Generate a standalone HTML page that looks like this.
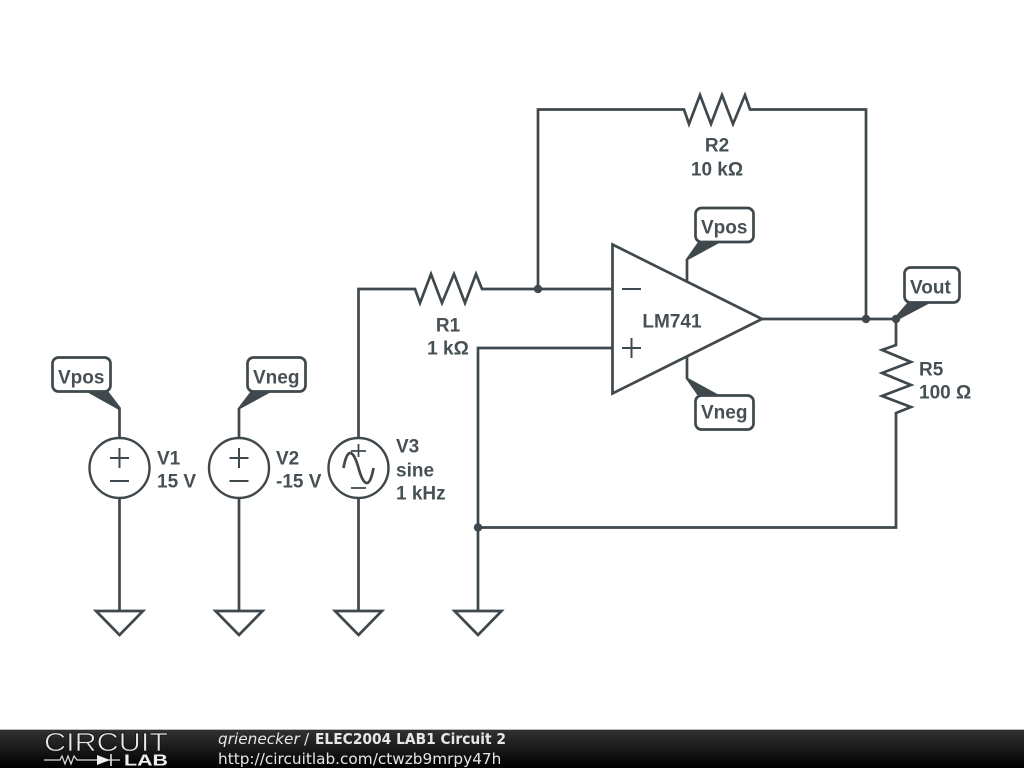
<!DOCTYPE html>
<html><head><meta charset="utf-8"><style>
html,body{margin:0;padding:0;background:#fff}
svg{display:block}
.w{fill:none;stroke:#3f484c;stroke-width:2.7;stroke-linejoin:miter}
.l{font-family:"Liberation Sans",sans-serif;font-weight:bold;font-size:19px;fill:#475054}
.f{font-family:"DejaVu Sans",sans-serif;font-size:15.3px;fill:#e6e6e6}
</style></head><body>
<svg width="1024" height="768" viewBox="0 0 1024 768" xmlns="http://www.w3.org/2000/svg">
<defs><linearGradient id="g" x1="0" y1="0" x2="0" y2="1"><stop offset="0" stop-color="#333"/><stop offset="1" stop-color="#000"/></linearGradient></defs>
<rect width="1024" height="768" fill="#fff"/>
<!-- wires -->
<path class="w" d="M358.500 438V289H415L420 303L431 274L442 303L454 274L465 303L476 274L482 289H612"/>
<path class="w" d="M538 289V109.500H684L689 124L700 95L711 124L722 95L733 124L745 95L750 109.500H866V319"/>
<path class="w" d="M762 319H896V345L882 350L911 362L882 373L911 385L882 396L911 407L896 413V527.500H478"/>
<path class="w" d="M612 348H478V611"/>
<!-- op amp -->
<path class="w" d="M612.500 244.500L762 319L612.500 393.500Z"/>
<path class="w" style="stroke-width:2" d="M622 289H641M622 348H641M631.500 338V358"/>
<path class="w" d="M687 281V259M687 357V379"/>
<!-- V sources -->
<circle class="w" style="stroke-width:2.4" cx="119.500" cy="468" r="30"/>
<circle class="w" style="stroke-width:2.4" cx="239" cy="468" r="30"/>
<circle class="w" style="stroke-width:2.4" cx="358.500" cy="468" r="30"/>
<path class="w" d="M119.500 408V438M119.500 498V611M239 408V438M239 498V611M358.500 498V611"/>
<path class="w" style="stroke-width:2" d="M110 458H129M119.500 448V468M110 481H129M229.500 458H248.500M239 448V468M229.500 481H248.500"/>
<path class="w" style="stroke-width:1.800" d="M351 451H366M358.500 444V457M351 488H366"/>
<path class="w" d="M343.500 468C347 448 353 448 358.500 468C364 488 370 488 373.500 468"/>
<!-- grounds -->
<path class="w" d="M96 611H143L119.500 635ZM215.500 611H262.500L239 635ZM335 611H382L358.500 635ZM454.500 611H501.500L478 635Z"/>
<!-- tags -->
<path fill="#3f484c" d="M85 391L108 391L121 408L119 410ZM251 391L273 391L240 409L238 408Z"/>
<path fill="#3f484c" d="M698 242L721 242L688 260L686 259ZM698 396L721 396L688 378L686 379Z"/>
<path fill="#3f484c" d="M908 302L932 302L898 320L894 318Z"/>
<g class="w" style="fill:#fff">
<rect x="52.500" y="357.500" width="58" height="34" rx="6"/>
<rect x="247.500" y="357.500" width="58" height="34" rx="6"/>
<rect x="695.500" y="208" width="58" height="34" rx="6"/>
<rect x="695.500" y="395.500" width="58" height="34" rx="6"/>
<rect x="904.500" y="267.500" width="55" height="35" rx="6"/>
</g>
<!-- dots -->
<g fill="#3f484c"><circle cx="538" cy="289" r="4.200"/><circle cx="866" cy="319" r="4.200"/><circle cx="896" cy="319" r="4.200"/><circle cx="478" cy="527.500" r="4.200"/></g>
<!-- labels -->
<g class="l">
<text x="58" y="383.500">Vpos</text>
<text x="253" y="383.500">Vneg</text>
<text x="701" y="233.500">Vpos</text>
<text x="701" y="418.500">Vneg</text>
<text x="910" y="293.500">Vout</text>
<text x="157" y="464.500">V1</text><text x="157" y="487.500">15 V</text>
<text x="276" y="464.500">V2</text><text x="276" y="487.500">-15 V</text>
<text x="396" y="452.500">V3</text><text x="396" y="476.500">sine</text><text x="396" y="499.500">1 kHz</text>
<text x="448" y="331.500" text-anchor="middle">R1</text><text x="448" y="354.500" text-anchor="middle">1 kΩ</text>
<text x="717" y="151.500" text-anchor="middle">R2</text><text x="717" y="175.500" text-anchor="middle">10 kΩ</text>
<text x="672" y="327.500" text-anchor="middle">LM741</text>
<text x="919" y="375.500">R5</text><text x="919" y="398.500">100 Ω</text>
</g>
<!-- footer -->
<rect x="0" y="729" width="1024" height="39" fill="url(#g)"/>
<rect x="0" y="729" width="1024" height="1" fill="#bbb"/>
<text x="44" y="751" textLength="124" lengthAdjust="spacingAndGlyphs" font-family="Liberation Sans,sans-serif" font-size="26" fill="#e8e8e8" stroke="#141414" stroke-width="0.7">CIRCUIT</text>
<path d="M44 760H60L62 756L65 764L68 756L71 764L74 756L77 760H120" fill="none" stroke="#ddd" stroke-width="1.200"/>
<path d="M97 755L110 760L97 765Z" fill="#eee"/><path d="M111 754V766" stroke="#eee" stroke-width="1.500"/>
<text x="124" y="765.500" textLength="44" lengthAdjust="spacingAndGlyphs" font-family="Liberation Sans,sans-serif" font-weight="bold" font-size="16" fill="#eee">LAB</text>
<text class="f" x="218" y="744" style="font-style:italic">qrienecker</text>
<text class="f" x="304" y="744">/</text>
<text class="f" x="315" y="744" font-weight="bold" textLength="191" lengthAdjust="spacingAndGlyphs">ELEC2004 LAB1 Circuit 2</text>
<text class="f" x="218" y="764">http://circuitlab.com/ctwzb9mrpy47h</text>
</svg>
</body></html>
